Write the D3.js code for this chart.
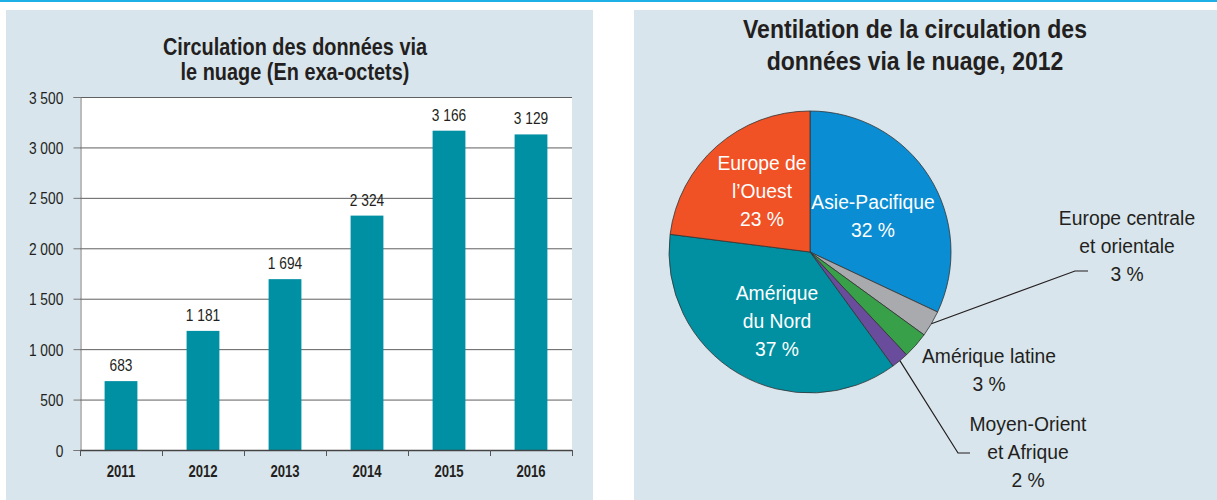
<!DOCTYPE html>
<html>
<head>
<meta charset="utf-8">
<script src="https://d3js.org/d3.v7.min.js"></script>
<style>
  body { margin: 0; background: #fff; }
  svg { display: block; }
  text { font-family: "Liberation Sans", Arial, sans-serif; fill: #231f20; }
  .grid line { stroke: #5f5f5f; stroke-width: 1px; }
  .slice { stroke: #333; stroke-width: 0.8px; }
</style>
</head>
<body>
<svg id="chart" width="1217" height="500"></svg>
<script>
// bar chart data
const years = ["2011", "2012", "2013", "2014", "2015", "2016"];
const traffic = [683, 1181, 1694, 2324, 3166, 3129];
const yTicks = [0, 500, 1000, 1500, 2000, 2500, 3000, 3500];

// pie chart data (2012)
const regions = ["Asie-Pacifique", "Europe centrale et orientale", "Amérique latine",
  "Moyen-Orient et Afrique", "Amérique du Nord", "Europe de l’Ouest"];
const shares = [32, 3, 3, 2, 37, 23];
const sliceColors = ["#0a8dd2", "#a8aaad", "#37a048", "#6a4c9c", "#0090a2", "#f05125"];

const fr = d3.formatLocale({ decimal: ",", thousands: " ", grouping: [3], currency: ["", " €"] });
const fmt = fr.format(",d");

const svg = d3.select("#chart");

// helper: multi-line text squeezed horizontally to mimic a condensed face
function textBlock(x, y, lines, size, sx, opts = {}) {
  const gg = svg.append("g").attr("transform", `translate(${x},${y}) scale(${sx},1)`);
  const t = gg.append("text")
    .attr("text-anchor", opts.anchor || "middle")
    .style("font-size", size + "px")
    .style("font-weight", opts.bold ? "bold" : "normal");
  if (opts.fill) t.style("fill", opts.fill);
  t.selectAll("tspan").data(lines)
    .join("tspan").attr("x", 0).attr("dy", (d, i) => i ? (opts.lh || size * 1.3) : 0).text(d => d);
  return gg;
}

// top rule
svg.append("rect").attr("x", 0).attr("y", 0).attr("width", 1217).attr("height", 2).attr("fill", "#1cb0e6");

// panels
svg.append("rect").attr("x", 6).attr("y", 10).attr("width", 587).attr("height", 490).attr("fill", "#d9e5ec");
svg.append("rect").attr("x", 634).attr("y", 10).attr("width", 583).attr("height", 490).attr("fill", "#d9e5ec");

// ---------- bar chart ----------
const pLeft = 80, pRight = 572, pTop = 97, pBottom = 450;

const x = d3.scaleBand().domain(years).range([pLeft, pRight]).paddingInner(0.6).paddingOuter(0.3);
const y = d3.scaleLinear().domain([0, 3500]).range([pBottom, pTop]);

textBlock(295, 55, ["Circulation des données via", "le nuage (En exa-octets)"], 23, 0.865, { bold: true, lh: 25 });

svg.append("rect").attr("x", pLeft).attr("y", pTop).attr("width", pRight - pLeft).attr("height", pBottom - pTop).attr("fill", "#fff");

// gridlines
svg.append("g").attr("class", "grid")
  .selectAll("line").data(yTicks.filter(d => d > 0))
  .join("line")
  .attr("x1", pLeft).attr("x2", pRight)
  .attr("y1", d => y(d) + 0.5).attr("y2", d => y(d) + 0.5);

// y axis
const yAxis = svg.append("g").attr("transform", `translate(${pLeft + 0.5},0)`)
  .call(d3.axisLeft(y).tickValues(yTicks).tickFormat(fmt).tickSize(7).tickPadding(13));
yAxis.attr("font-family", null).attr("font-size", null);
yAxis.select(".domain").attr("stroke", "#777");
yAxis.selectAll(".tick line").attr("stroke", "#777");
yAxis.selectAll(".tick text")
  .style("font-size", "16px").attr("dy", "0.38em")
  .attr("transform", "scale(0.86,1)");

// bars
svg.selectAll("rect.bar").data(years)
  .join("rect").attr("class", "bar")
  .attr("x", d => x(d))
  .attr("width", x.bandwidth())
  .attr("y", (d, i) => y(traffic[i]))
  .attr("height", (d, i) => pBottom - y(traffic[i]))
  .attr("fill", "#0090a3");

years.forEach((d, i) => {
  textBlock(x(d) + x.bandwidth() / 2, y(traffic[i]) - 10, [fmt(traffic[i])], 16, 0.86);
});

// x axis: ticks at band boundaries
const bounds = d3.range(years.length + 1).map(i => pLeft + i * (pRight - pLeft) / years.length);
svg.append("line").attr("x1", pLeft).attr("x2", pRight).attr("y1", pBottom + 0.5).attr("y2", pBottom + 0.5)
  .attr("stroke", "#444").attr("stroke-width", 1.5);
svg.selectAll("line.xt").data(bounds)
  .join("line").attr("class", "xt")
  .attr("x1", d => d + 0.5).attr("x2", d => d + 0.5)
  .attr("y1", pBottom).attr("y2", pBottom + 6)
  .attr("stroke", "#555");
years.forEach(d => {
  textBlock(x(d) + x.bandwidth() / 2, 477, [d], 16, 0.82, { bold: true });
});

// ---------- pie chart ----------
const cx = 810, cy = 252, r = 141;
const g = svg.append("g").attr("transform", `translate(${cx},${cy})`);

textBlock(915, 38, ["Ventilation de la circulation des", "données via le nuage, 2012"], 26, 0.885, { bold: true, lh: 32 });

const pie = d3.pie().sort(null).value(d => d);
const arcs = pie(shares);
const arc = d3.arc().innerRadius(0).outerRadius(r);

g.selectAll("path").data(arcs)
  .join("path").attr("class", "slice")
  .attr("d", arc)
  .attr("fill", (d, i) => sliceColors[i]);

// label layout: lines, centre x, first baseline y, colour, leader elbow
const labels = [
  { i: 0, lines: ["Asie-Pacifique", "32 %"], x: 873, y: 209, fill: "#fff" },
  { i: 1, lines: ["Europe centrale", "et orientale", "3 %"], x: 1127, y: 225, fill: "#231f20", elbow: [1075, 271, 1088] },
  { i: 2, lines: ["Amérique latine", "3 %"], x: 989, y: 363, fill: "#231f20" },
  { i: 3, lines: ["Moyen-Orient", "et Afrique", "2 %"], x: 1028, y: 431, fill: "#231f20", elbow: [958, 453, 970] },
  { i: 4, lines: ["Amérique", "du Nord", "37 %"], x: 777, y: 300, fill: "#fff" },
  { i: 5, lines: ["Europe de", "l’Ouest", "23 %"], x: 762, y: 170, fill: "#fff" }
];

labels.forEach(l => {
  textBlock(l.x, l.y, l.lines, 21, 0.92, { fill: l.fill, lh: 28 });
  if (l.elbow) {
    const a = arcs[l.i];
    const mid = (a.startAngle + a.endAngle) / 2;
    const p = [cx + r * Math.sin(mid), cy - r * Math.cos(mid)];
    svg.append("polyline")
      .attr("points", [p, [l.elbow[0], l.elbow[1]], [l.elbow[2], l.elbow[1]]].map(q => q.join(",")).join(" "))
      .attr("fill", "none").attr("stroke", "#231f20").attr("stroke-width", 1.2);
  }
});
</script>
</body>
</html>
